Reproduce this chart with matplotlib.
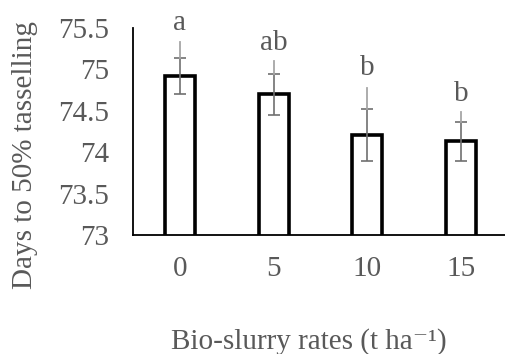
import matplotlib.pyplot as plt

plt.rcParams['font.family'] = ['Liberation Serif', 'DejaVu Serif']

rates = ['0', '5', '10', '15']
days = [74.92, 74.70, 74.21, 74.13]
err = [0.22, 0.25, 0.31, 0.23]
ext_top = [75.33, 75.10, 74.77, 74.48]   # the light grey lines above the caps
letters = ['a', 'ab', 'b', 'b']
letter_y = [75.47, 75.23, 74.93, 74.62]

grey = '#595959'

fig = plt.figure(figsize=(5.05, 3.54), dpi=100)
ax = fig.add_axes([0.263, 0.336, 0.743, 0.585])

x = range(len(rates))
ax.bar(x, days, width=0.32, bottom=0, color='white', edgecolor='black',
       linewidth=2.6, zorder=2)
ax.errorbar(x, days, yerr=err, fmt='none', ecolor='#707070', elinewidth=1.2,
            capsize=4, capthick=1.2, zorder=3)
for i in x:
    ax.plot([i, i], [days[i] + err[i], ext_top[i]], color='#a6a6a6', lw=1.3, zorder=3)
    ax.text(i, letter_y[i], letters[i], ha='center', va='baseline', fontsize=21, color=grey)

ax.set_ylim(73, 75.5)
ax.set_xlim(-0.5, 3.5)
ax.set_yticks([73, 73.5, 74, 74.5, 75, 75.5])
ax.set_yticklabels(['73', '73.5', '74', '74.5', '75', '75.5'])
ax.set_xticks(list(x))
ax.set_xticklabels(rates)
ax.tick_params(axis='both', length=0, labelsize=21, labelcolor=grey)
ax.tick_params(axis='y', pad=17)
ax.tick_params(axis='x', pad=15)

for s in ['top', 'right']:
    ax.spines[s].set_visible(False)
ax.spines['left'].set_linewidth(1.3)
ax.spines['bottom'].set_linewidth(1.3)

fig.text(25 / 505, 1 - 155 / 354, 'Days to 50% tasselling', rotation=90, ha='center',
         va='center', fontsize=21, color=grey)
fig.text(0.612, 0.035, 'Bio-slurry rates (t ha\u207b\u00b9)', ha='center',
         va='center', fontsize=21, color=grey)

fig.savefig('out.png', dpi=100)
